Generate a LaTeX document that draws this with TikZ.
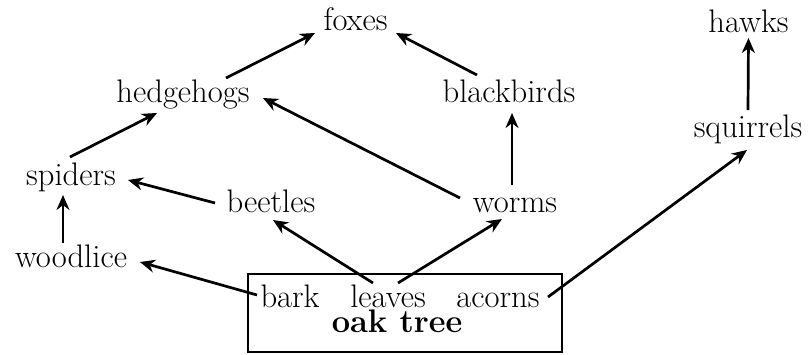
\documentclass[tikz,border=0pt]{standalone}
\usetikzlibrary{arrows.meta}
\begin{document}
\begin{tikzpicture}[x=0.5pt,y=-0.5pt,
  lbl/.style={inner sep=0pt, outer sep=0pt, text height=11.5pt, text depth=3.5pt,
    font=\fontsize{16.3pt}{19pt}\selectfont},
  part/.style={lbl, text depth=0pt},
  arr/.style={line width=1.35pt, -{Stealth[length=7.5pt,width=6.5pt]}},
  boxst/.style={draw, line width=1pt, inner sep=0pt, minimum width=157pt, minimum height=39pt}]
\useasboundingbox (0,0) rectangle (809,354);
\node[boxst] (box) at (404.5,312.5) {};
\node[lbl] (foxes) at (355.5,22) {foxes};
\node[lbl] (hawks) at (748.5,24) {hawks};
\node[lbl] (hedgehogs) at (183,94) {hedgehogs};
\node[lbl] (blackbirds) at (509,94) {blackbirds};
\node[lbl] (squirrels) at (748,129) {squirrels};
\node[lbl] (spiders) at (71,177) {spiders};
\node[lbl] (beetles) at (271,204) {beetles};
\node[lbl] (worms) at (515,204) {worms};
\node[lbl] (woodlice) at (71,259) {woodlice};
\node[part] (bark) at (290,295.5) {bark};
\node[part] (leaves) at (388,295.5) {leaves};
\node[part] (acorns) at (498,295.5) {acorns};
\node[inner sep=0pt, outer sep=0pt, anchor=base, font=\fontsize{16.3pt}{19pt}\selectfont\bfseries] (oak) at (397,332) {oak tree};
\draw[arr] ([shift={(43,-16)}]hedgehogs.center) -- ([shift={(-40.5,11)}]foxes.center);
\draw[arr] ([shift={(-32,-19)}]blackbirds.center) -- ([shift={(40.5,11)}]foxes.center);
\draw[arr] ([shift={(-1,-20)}]spiders.center) -- ([shift={(-26,19)}]hedgehogs.center);
\draw[arr] ([shift={(-55,-6)}]worms.center) -- ([shift={(80,4)}]hedgehogs.center);
\draw[arr] ([shift={(-3,-19)}]worms.center) -- ([shift={(3,19)}]blackbirds.center);
\draw[arr] ([shift={(0,-19)}]squirrels.center) -- ([shift={(0,14)}]hawks.center);
\draw[arr] ([shift={(-56,-1)}]beetles.center) -- ([shift={(57,3)}]spiders.center);
\draw[arr] ([shift={(-8,-16)}]woodlice.center) -- ([shift={(-8,18)}]spiders.center);
\draw[arr] ([shift={(-33,-0.5)}]bark.center) -- ([shift={(69,3)}]woodlice.center);
\draw[arr] ([shift={(-15,-12.5)}]leaves.center) -- ([shift={(2,16)}]beetles.center);
\draw[arr] ([shift={(10,-12.5)}]leaves.center) -- ([shift={(-13,15)}]worms.center);
\draw[arr] ([shift={(50,1.5)}]acorns.center) -- ([shift={(-1,21)}]squirrels.center);
\end{tikzpicture}
\end{document}
